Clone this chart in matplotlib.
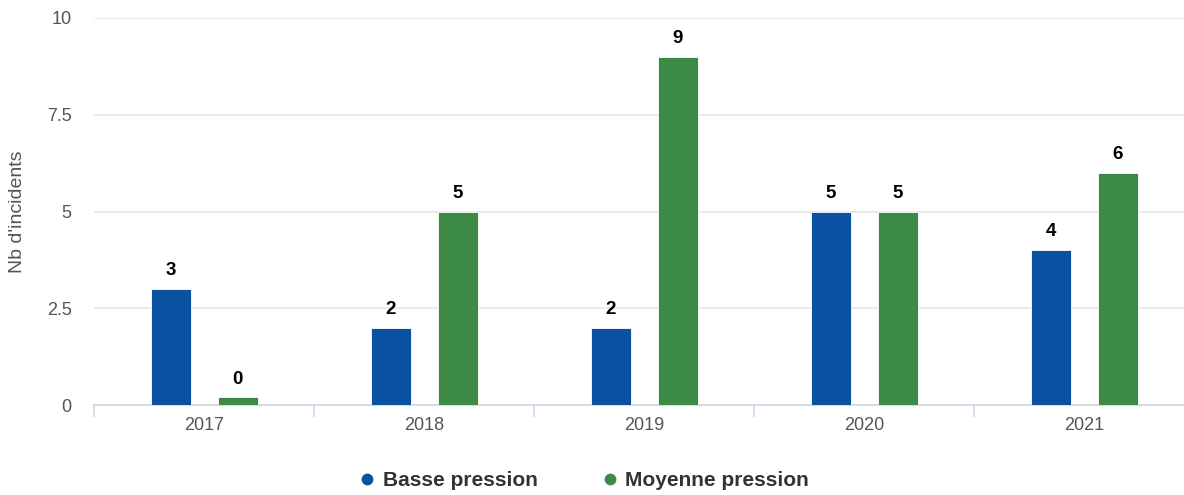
import matplotlib
matplotlib.use("Agg")
import matplotlib.pyplot as plt
from matplotlib.lines import Line2D
import numpy as np

years = ["2017", "2018", "2019", "2020", "2021"]
basse = [3, 2, 2, 5, 4]
moyenne = [0, 5, 9, 5, 6]
series_names = ["Basse pression", "Moyenne pression"]
yticks = [0, 2.5, 5, 7.5, 10]
ytick_labels = ["0", "2.5", "5", "7.5", "10"]

blue = "#0a52a1"
green = "#3d8a44"

plt.rcParams['font.family'] = ['Liberation Sans', 'DejaVu Sans']

W, H = 1184, 495
fig = plt.figure(figsize=(W / 100, H / 100), dpi=100)
left_px, right_px, top_px, bottom_px = 94, 1184, 18, 405
ax = fig.add_axes([left_px / W, (H - bottom_px) / H, (right_px - left_px) / W, (bottom_px - top_px) / H])

unit = 220.0
x = np.arange(len(years))
off = 33.5 / unit
bw = 40 / unit
min_h = 0.2

for vals, color, sign in [(basse, blue, -1), (moyenne, green, 1)]:
    disp = [max(v, min_h) for v in vals]
    ax.bar(x + sign * off, disp, width=bw, color=color, edgecolor="white", linewidth=0.6, zorder=3)
    for xi, d, v in zip(x, disp, vals):
        ax.annotate(str(v), (xi + sign * off, d), xytext=(0, 7), textcoords="offset points",
                    ha="center", va="bottom", fontsize=13.5, fontweight="bold", color="#000000")

ax.set_xlim(-0.5, -0.5 + (right_px - left_px) / unit)
ax.set_ylim(0, 10)
ax.set_yticks(yticks)
ax.set_yticklabels(ytick_labels)
ax.yaxis.grid(True, color="#e6e6e6", linewidth=1.2, zorder=0)
ax.set_axisbelow(True)

for s in ["top", "right", "left"]:
    ax.spines[s].set_visible(False)
ax.spines["bottom"].set_color("#ccd6eb")
ax.spines["bottom"].set_linewidth(1.2)

ax.set_xticks(x)
ax.set_xticklabels(years)
ax.tick_params(axis="x", length=0, pad=9, labelsize=13, labelcolor="#555555")
ax.tick_params(axis="y", length=0, pad=16, labelsize=13, labelcolor="#555555")

# category boundary ticks
for b in np.arange(-0.5, len(years), 1.0):
    ax.plot([b, b], [0, -0.28], color="#ccd6eb", linewidth=1.2, clip_on=False, zorder=2)

ax.set_ylabel("Nb d'incidents", fontsize=14, color="#555555")
ax.yaxis.set_label_coords(-(94 - 18) / (right_px - left_px), 0.5)
ax.yaxis.label.set_verticalalignment("center")

handles = [Line2D([0], [0], marker="o", color="w", markerfacecolor=blue, markersize=9.5),
           Line2D([0], [0], marker="o", color="w", markerfacecolor=green, markersize=9.5)]
leg = fig.legend(handles, series_names, loc="center", bbox_to_anchor=(582 / W, 1 - 481 / H),
                 ncol=2, frameon=False, handletextpad=0.15, columnspacing=2.85, handlelength=1.2,
                 prop={"weight": "bold", "size": 15})
for t in leg.get_texts():
    t.set_color("#333333")

fig.savefig("out.png", dpi=100)
